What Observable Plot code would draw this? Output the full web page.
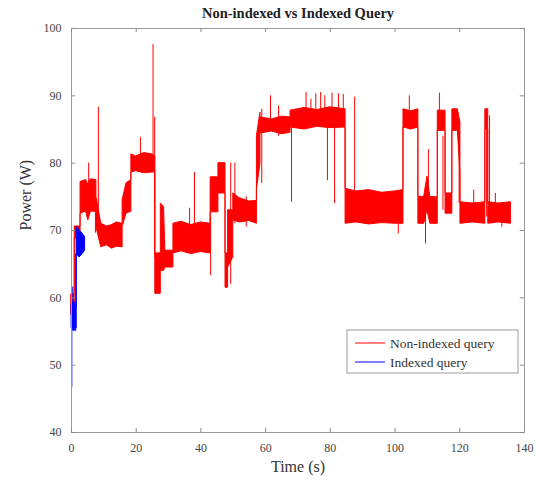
<!DOCTYPE html>
<html>
<head>
<meta charset="utf-8">
<script src="https://cdn.jsdelivr.net/npm/d3@7"></script>
<script src="https://cdn.jsdelivr.net/npm/@observablehq/plot@0.6"></script>
<style>
  html, body { margin: 0; padding: 0; background: #fff; }
</style>
</head>
<body>
<div id="chart"></div>
<script>
// Power draw over time for a non-indexed and an indexed query.
// Each trace is stored as an envelope (time, low, high) of its dense
// sample band, plus the isolated spikes that stick out of it.

const titleText = "Non-indexed vs Indexed Query";
const xLabel = "Time (s)";
const yLabel = "Power (W)";
const seriesNames = ["Non-indexed query", "Indexed query"];

const xTicks = [0, 20, 40, 60, 80, 100, 120, 140];
const yTicks = [40, 50, 60, 70, 80, 90, 100];

// Non-indexed query: band envelope
const nonIdxTime = [0.0, 1.0, 1.0, 2.8, 2.8, 4.5, 5.2, 6.0, 7.7, 7.7, 9.2, 11.0, 12.5, 14.0, 15.8, 15.8, 17.0, 18.5, 18.5, 20.0, 22.5, 25.0, 25.9, 25.9, 27.6, 27.6, 28.6, 29.0, 31.5, 31.5, 34.0, 37.0, 40.0, 43.0, 43.0, 45.4, 45.4, 47.6, 47.6, 48.4, 48.4, 50.0, 50.0, 52.0, 55.0, 57.3, 57.3, 58.4, 58.4, 62.0, 65.0, 67.7, 67.7, 72.0, 76.0, 80.0, 84.7, 84.7, 88.0, 92.0, 96.0, 100.0, 102.6, 102.6, 105.0, 107.2, 107.2, 109.0, 110.0, 110.9, 113.2, 113.2, 115.6, 115.6, 117.7, 117.7, 119.4, 120.2, 120.2, 124.0, 127.9, 127.9, 128.8, 128.8, 132.0, 135.8];
const nonIdxLow  = [57.5, 58.0, 68.8, 68.8, 72.5, 72.8, 71.5, 72.8, 72.8, 70.5, 67.5, 67.8, 67.3, 67.6, 67.5, 70.5, 72.5, 72.8, 78.6, 78.8, 78.5, 78.6, 78.6, 60.6, 60.6, 64.0, 64.0, 64.5, 64.5, 66.6, 66.9, 66.5, 66.8, 66.6, 72.7, 72.7, 75.5, 75.5, 61.5, 61.5, 64.5, 66.0, 71.5, 71.2, 71.4, 71.0, 76.0, 80.0, 84.4, 84.7, 84.3, 84.5, 85.3, 85.0, 85.4, 85.2, 85.3, 71.0, 71.2, 70.9, 71.1, 71.0, 71.0, 85.3, 85.0, 85.3, 71.0, 71.0, 73.0, 71.0, 71.0, 84.8, 84.8, 72.5, 72.5, 84.8, 84.8, 78.5, 71.0, 71.2, 71.0, 85.0, 85.0, 71.0, 71.2, 71.0];
const nonIdxHigh = [60.5, 60.5, 70.6, 70.6, 77.2, 77.5, 76.8, 77.6, 77.5, 75.0, 71.0, 70.6, 70.8, 71.2, 71.0, 74.5, 77.0, 77.5, 81.3, 81.0, 81.5, 81.3, 81.0, 66.6, 66.6, 74.0, 73.5, 67.0, 67.0, 71.0, 71.3, 70.8, 71.2, 71.0, 77.9, 77.9, 80.0, 80.0, 66.6, 66.6, 73.0, 73.0, 75.5, 74.8, 74.3, 74.4, 84.0, 87.5, 86.8, 86.5, 86.9, 86.8, 87.8, 88.2, 87.9, 88.3, 88.0, 76.2, 75.8, 76.0, 75.6, 75.8, 76.0, 88.0, 87.7, 88.0, 75.0, 75.0, 78.0, 75.0, 74.9, 87.8, 87.8, 75.5, 75.5, 88.0, 88.0, 86.0, 74.2, 74.0, 74.2, 88.0, 88.0, 74.2, 74.0, 74.2];

// Non-indexed query: isolated spikes
const nonIdxSpikeTime = [5.3, 7.4, 8.3, 21.3, 25.2, 25.7, 36.5, 38.0, 43.0, 49.2, 50.5, 54.0, 58.8, 61.5, 64.0, 68.0, 72.5, 74.0, 75.5, 77.0, 78.3, 79.1, 80.5, 81.3, 82.5, 84.0, 87.5, 101.0, 104.4, 109.4, 110.3, 113.7, 114.8, 119.8, 124.3, 128.3, 129.2, 131.0, 133.0];
const nonIdxSpikeLow  = [74.0, 69.6, 72.0, 80.0, 79.0, 66.0, 70.0, 70.0, 63.3, 62.0, 71.0, 70.5, 77.0, 86.0, 84.0, 74.2, 87.0, 87.0, 87.0, 87.0, 87.0, 77.4, 87.0, 74.0, 87.0, 87.0, 73.0, 69.5, 86.0, 68.0, 74.0, 86.0, 73.0, 74.0, 72.0, 72.0, 72.0, 72.0, 70.5];
const nonIdxSpikeHigh = [80.0, 74.0, 88.3, 83.8, 97.6, 86.8, 73.3, 78.6, 72.0, 80.0, 80.0, 75.0, 88.0, 90.0, 88.5, 86.0, 90.5, 89.5, 90.3, 90.5, 90.0, 86.0, 90.4, 86.0, 90.3, 90.2, 89.8, 73.0, 90.0, 74.0, 82.0, 90.4, 84.0, 86.0, 76.0, 88.0, 87.0, 75.5, 72.0];

// Indexed query: band envelope
const idxTime = [0.1, 0.8, 1.6, 1.6, 2.5, 3.5, 4.2];
const idxLow  = [55.5, 55.0, 55.5, 66.5, 66.0, 66.5, 67.0];
const idxHigh = [59.0, 59.5, 58.5, 70.5, 70.0, 69.5, 69.0];

// Indexed query: isolated spikes
const idxSpikeTime = [0.1, 0.4, 1.3];
const idxSpikeLow  = [46.7, 58.0, 55.0];
const idxSpikeHigh = [60.0, 61.6, 66.5];

const RED = "#ff0000";
const BLUE = "#0000ff";
const FONT = "'Liberation Serif', 'Times New Roman', serif";

const rows = (t, lo, hi) => t.map((v, i) => ({t: v, lo: lo[i], hi: hi[i]}));
const nonIdxBand = rows(nonIdxTime, nonIdxLow, nonIdxHigh);
const nonIdxSpikes = rows(nonIdxSpikeTime, nonIdxSpikeLow, nonIdxSpikeHigh);
const idxBand = rows(idxTime, idxLow, idxHigh);
const idxSpikes = rows(idxSpikeTime, idxSpikeLow, idxSpikeHigh);

const xMin = xTicks[0], xMax = xTicks[xTicks.length - 1];
const yMin = yTicks[0], yMax = yTicks[yTicks.length - 1];
const tickGrey = "#8a8a8a";

const plot = Plot.plot({
  width: 539,
  height: 482,
  marginLeft: 71,
  marginRight: 15,
  marginTop: 28,
  marginBottom: 50,
  style: {fontFamily: FONT, fontSize: "12px", color: "#444", background: "#fff", overflow: "visible"},
  x: {domain: [xMin, xMax], ticks: xTicks, tickSize: 0, tickPadding: 11, label: null, tickFormat: d => d},
  y: {domain: [yMin, yMax], ticks: yTicks, tickSize: 0, tickPadding: 10, label: null, tickFormat: d => d},
  marks: [
    // non-indexed trace
    Plot.areaY(nonIdxBand, {x: "t", y1: "lo", y2: "hi", fill: RED, stroke: RED, strokeWidth: 1}),
    Plot.ruleX(nonIdxSpikes, {x: "t", y1: "lo", y2: "hi", stroke: RED, strokeWidth: 1}),
    // indexed trace
    Plot.areaY(idxBand, {x: "t", y1: "lo", y2: "hi", fill: BLUE, stroke: BLUE, strokeWidth: 1}),
    Plot.ruleX(idxSpikes, {x: "t", y1: "lo", y2: "hi", stroke: BLUE, strokeWidth: 1}),
    // box and inward ticks on all four sides
    Plot.frame({stroke: "#9a9a9a", strokeWidth: 1}),
    Plot.ruleX(xTicks, {x: d => d, y1: yMin, y2: yMin + 0.6, stroke: tickGrey}),
    Plot.ruleX(xTicks, {x: d => d, y1: yMax - 0.6, y2: yMax, stroke: tickGrey}),
    Plot.ruleY(yTicks, {y: d => d, x1: xMin, x2: xMin + 1.3, stroke: tickGrey}),
    Plot.ruleY(yTicks, {y: d => d, x1: xMax - 1.3, x2: xMax, stroke: tickGrey}),
    // title and axis labels
    Plot.text([titleText], {frameAnchor: "top", dy: -15, lineAnchor: "middle", fontSize: 14.5, fontWeight: "bold", fill: "#222"}),
    Plot.text([xLabel], {frameAnchor: "bottom", dy: 34, lineAnchor: "middle", fontSize: 16, fill: "#333"}),
    Plot.text([yLabel], {frameAnchor: "left", dx: -46, rotate: -90, lineAnchor: "middle", fontSize: 16, fill: "#333"})
  ]
});

document.getElementById("chart").appendChild(plot);

// Legend box in the lower right of the axes
const svg = d3.select(plot);
const legend = svg.append("g")
  .attr("font-family", FONT)
  .attr("font-size", 13.5)
  .attr("text-anchor", "start");
legend.append("rect")
  .attr("x", 347).attr("y", 330).attr("width", 171).attr("height", 43)
  .attr("fill", "#fff").attr("stroke", "#9a9a9a");
[RED, BLUE].forEach((c, i) => {
  const y = 343 + i * 19;
  legend.append("line").attr("x1", 355).attr("x2", 385).attr("y1", y).attr("y2", y)
    .attr("stroke", c).attr("stroke-width", 1);
  legend.append("text").attr("x", 390).attr("y", y).attr("dy", "0.35em")
    .attr("text-anchor", "start").attr("fill", "#333").text(seriesNames[i]);
});
</script>
</body>
</html>
